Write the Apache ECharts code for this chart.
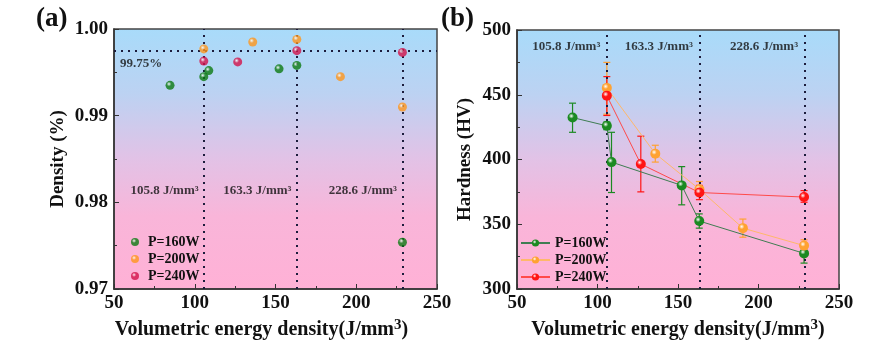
<!DOCTYPE html>
<html><head><meta charset="utf-8">
<script src="https://cdn.jsdelivr.net/npm/echarts@6/dist/echarts.min.js"></script>
<style>html,body{margin:0;padding:0;background:#fff}#c{width:886px;height:345px}</style>
</head><body><div id="c"></div>
<script>
// ---------- Panel (a): density ----------
const seriesNames = ['P=160W', 'P=200W', 'P=240W'];
const densityX160 = [84.7, 105.6, 108.7, 152.2, 163.2, 228.6];
const densityY160 = [0.9935, 0.9945, 0.9952, 0.9954, 0.9958, 0.9754];
const densityX200 = [105.6, 135.9, 163.2, 190.2, 228.6];
const densityY200 = [0.9977, 0.9985, 0.9988, 0.9945, 0.9910];
const densityX240 = [105.6, 126.6, 163.2, 228.6];
const densityY240 = [0.9963, 0.9962, 0.9975, 0.9973];
const densityThreshold = 0.9975;
const thresholdLabel = '99.75%';
const vedLines = [105.8, 163.3, 228.6];
const vedLabels = ['105.8 J/mm³', '163.3 J/mm³', '228.6 J/mm³'];
const densityLabelY = 0.9814;
const hardnessLabelY = 487;

// ---------- Panel (b): hardness ----------
const hardX160 = [84.5, 105.8, 108.7, 152.3, 163.2, 228.3];
const hardY160 = [432.4, 426, 398, 380, 352.5, 327.5];
const hardLo160 = [421, 423, 374.5, 365, 347, 320];
const hardHi160 = [443.5, 429, 421, 394.5, 358, 335];
const hardX200 = [105.8, 135.9, 163.3, 190.3, 228.3];
const hardY200 = [455.3, 404.5, 377, 347, 333.5];
const hardLo200 = [435, 398, 372, 340, 329];
const hardHi200 = [475, 411, 383, 354, 338];
const hardX240 = [105.8, 126.9, 163.3, 228.3];
const hardY240 = [449.3, 396.5, 374.5, 371];
const hardLo240 = [434, 375, 369, 367];
const hardHi240 = [464, 418, 380, 376];

const FONT = 'Liberation Serif';
const colA = ['#0d7a12', '#ff961c', '#d3124a'];
const colB = ['#1b8a22', '#ffa232', '#ff1414'];
const lineB = ['#3f7d52', '#ffb86a', '#ff4a4a'];

function sphere(c) {
  return {type: 'radial', x: 0.38, y: 0.35, r: 0.75,
    colorStops: [{offset: 0, color: '#ffffff'}, {offset: 0.35, color: c}, {offset: 1, color: c}]};
}
const bg = {type: 'linear', x: 0, y: 0, x2: 0, y2: 1,
  colorStops: [{offset: 0, color: '#a8dbfa'}, {offset: 0.25, color: '#bcd2f2'},
    {offset: 0.5, color: '#e2c2e6'}, {offset: 0.72, color: '#f9b5d9'}, {offset: 1, color: '#ffb1d6'}]};

const zip = (xs, ys) => xs.map((x, i) => [x, ys[i]]);
const zip3 = (xs, lo, hi) => xs.map((x, i) => [x, lo[i], hi[i]]);

const axisText = {color: '#111', fontFamily: FONT, fontWeight: 'bold', fontSize: 19};
const xName = '{a|Volumetric energy density(J/mm}{s|3}{a|)}';
function xNameStyle(pad) {
  return {color: '#111', fontFamily: FONT, fontWeight: 'bold', fontSize: 20, padding: pad,
    rich: {a: {fontFamily: FONT, fontWeight: 'bold', fontSize: 20, lineHeight: 24, color: '#111'},
           s: {fontFamily: FONT, fontWeight: 'bold', fontSize: 15, lineHeight: 12, verticalAlign: 'top', color: '#111'}}};
}
function xAxis(gi, pad) {
  return {type: 'value', gridIndex: gi, min: 50, max: 250, interval: 50,
    axisLine: {show: true, lineStyle: {color: '#333', width: 1.5}},
    axisTick: {show: true, inside: true, length: 5, lineStyle: {color: '#333'}},
    minorTick: {show: true, splitNumber: 2, length: 3, lineStyle: {color: '#333'}},
    splitLine: {show: false},
    axisLabel: Object.assign({margin: 5}, axisText),
    name: xName, nameLocation: 'middle', nameGap: 24, nameTextStyle: xNameStyle(pad)};
}

function errSeries(xs, lo, hi, color, gi) {
  return {type: 'custom', xAxisIndex: gi, yAxisIndex: gi, silent: true, z: 3,
    data: zip3(xs, lo, hi),
    renderItem: function (params, api) {
      const x = api.value(0);
      const p1 = api.coord([x, api.value(1)]);
      const p2 = api.coord([x, api.value(2)]);
      const w = 3.5;
      const st = {stroke: color, lineWidth: 1.2};
      return {type: 'group', children: [
        {type: 'line', shape: {x1: p1[0], y1: p1[1], x2: p2[0], y2: p2[1]}, style: st},
        {type: 'line', shape: {x1: p1[0] - w, y1: p1[1], x2: p1[0] + w, y2: p1[1]}, style: st},
        {type: 'line', shape: {x1: p2[0] - w, y1: p2[1], x2: p2[0] + w, y2: p2[1]}, style: st}
      ]};
    }};
}

const dotted = {color: '#1c1c3c', width: 2, type: [2, 5]};
const labelRich = {color: '#111', fontFamily: FONT, fontWeight: 'bold', fontSize: 13};

const option = {
  animation: false,
  backgroundColor: '#fff',
  grid: [
    {left: 114, right: 449, top: 29, bottom: 56, show: true, backgroundColor: bg, borderColor: '#444', borderWidth: 1.5},
    {left: 517, right: 47, top: 30, bottom: 56, show: true, backgroundColor: bg, borderColor: '#444', borderWidth: 1.5}
  ],
  xAxis: [xAxis(0, [0, 28, 0, 0]), xAxis(1, [0, 0, 0, 0])],
  yAxis: [
    {type: 'value', gridIndex: 0, min: 0.97, max: 1.0, interval: 0.01,
      axisLine: {show: true, lineStyle: {color: '#333', width: 1.5}},
      axisTick: {show: true, inside: true, length: 5, lineStyle: {color: '#333'}},
      minorTick: {show: true, splitNumber: 2, length: 3, lineStyle: {color: '#333'}},
      splitLine: {show: false},
      axisLabel: Object.assign({margin: 6, formatter: v => v.toFixed(2)}, axisText),
      name: 'Density (%)', nameLocation: 'middle', nameGap: 46,
      nameTextStyle: {color: '#111', fontFamily: FONT, fontWeight: 'bold', fontSize: 19}},
    {type: 'value', gridIndex: 1, min: 300, max: 500, interval: 50,
      axisLine: {show: true, lineStyle: {color: '#333', width: 1.5}},
      axisTick: {show: true, inside: true, length: 5, lineStyle: {color: '#333'}},
      minorTick: {show: true, splitNumber: 2, length: 3, lineStyle: {color: '#333'}},
      splitLine: {show: false},
      axisLabel: Object.assign({margin: 6}, axisText),
      name: 'Hardness (HV)', nameLocation: 'middle', nameGap: 42,
      nameTextStyle: {color: '#111', fontFamily: FONT, fontWeight: 'bold', fontSize: 19}}
  ],
  legend: [
    {orient: 'vertical', left: 126, top: 230, itemGap: 3, itemWidth: 8, itemHeight: 8, icon: 'circle',
      data: ['a0', 'a1', 'a2'], formatter: n => seriesNames[+n[1]],
      textStyle: {color: '#111', fontFamily: FONT, fontWeight: 'bold', fontSize: 14, padding: [0, 0, 0, 4]}},
    {orient: 'vertical', left: 515, top: 231, itemGap: 3, itemWidth: 29, itemHeight: 9, itemStyle: {borderWidth: 0},
      data: ['b0', 'b1', 'b2'], formatter: n => seriesNames[+n[1]],
      textStyle: {color: '#111', fontFamily: FONT, fontWeight: 'bold', fontSize: 14}}
  ],
  graphic: [
    {type: 'text', left: 36, top: 6, style: {text: '(a)', font: 'bold 27px "Liberation Serif"', fill: '#111'}},
    {type: 'text', left: 441, top: 6, style: {text: '(b)', font: 'bold 27px "Liberation Serif"', fill: '#111'}}
  ],
  series: [
    // helper series with reference lines (a)
    {type: 'scatter', xAxisIndex: 0, yAxisIndex: 0, data: vedLines.map(x => [x, densityLabelY]),
      symbolSize: 1, itemStyle: {color: 'rgba(0,0,0,0)'}, silent: true,
      label: {show: true, position: 'left', distance: 5, formatter: p => vedLabels[p.dataIndex], ...labelRich},
      markLine: {silent: true, symbol: 'none', animation: false, lineStyle: dotted,
        data: [
          [{coord: [50, densityThreshold]}, {coord: [250, densityThreshold],
            label: {show: false}}],
          ...vedLines.map(x => ({xAxis: x, label: {show: false}}))
        ]}},
    {type: 'scatter', xAxisIndex: 0, yAxisIndex: 0, data: [[50, densityThreshold]], symbolSize: 1,
      itemStyle: {color: 'rgba(0,0,0,0)'}, silent: true,
      label: {show: true, position: 'bottom', align: 'left', offset: [6, 1], formatter: thresholdLabel, ...labelRich}},
    {name: 'a0', type: 'scatter', xAxisIndex: 0, yAxisIndex: 0, data: zip(densityX160, densityY160), symbolSize: 9,
      itemStyle: {color: sphere(colA[0])}, z: 5},
    {name: 'a1', type: 'scatter', xAxisIndex: 0, yAxisIndex: 0, data: zip(densityX200, densityY200), symbolSize: 9,
      itemStyle: {color: sphere(colA[1])}, z: 5},
    {name: 'a2', type: 'scatter', xAxisIndex: 0, yAxisIndex: 0, data: zip(densityX240, densityY240), symbolSize: 9,
      itemStyle: {color: sphere(colA[2])}, z: 5},
    // helper series (b)
    {type: 'scatter', xAxisIndex: 1, yAxisIndex: 1, data: vedLines.map(x => [x, hardnessLabelY]),
      symbolSize: 1, itemStyle: {color: 'rgba(0,0,0,0)'}, silent: true,
      label: {show: true, position: 'left', distance: 6, formatter: p => vedLabels[p.dataIndex], ...labelRich},
      markLine: {silent: true, symbol: 'none', animation: false, lineStyle: dotted,
        data: vedLines.map(x => ({xAxis: x, label: {show: false}}))}},
    errSeries(hardX160, hardLo160, hardHi160, colB[0], 1),
    errSeries(hardX200, hardLo200, hardHi200, colB[1], 1),
    errSeries(hardX240, hardLo240, hardHi240, colB[2], 1),
    {name: 'b0', type: 'line', xAxisIndex: 1, yAxisIndex: 1, data: zip(hardX160, hardY160), symbol: 'circle', symbolSize: 10,
      itemStyle: {color: sphere(colB[0])}, lineStyle: {color: lineB[0], width: 1}, z: 5},
    {name: 'b1', type: 'line', xAxisIndex: 1, yAxisIndex: 1, data: zip(hardX200, hardY200), symbol: 'circle', symbolSize: 10,
      itemStyle: {color: sphere(colB[1])}, lineStyle: {color: lineB[1], width: 1}, z: 5},
    {name: 'b2', type: 'line', xAxisIndex: 1, yAxisIndex: 1, data: zip(hardX240, hardY240), symbol: 'circle', symbolSize: 10,
      itemStyle: {color: sphere(colB[2])}, lineStyle: {color: lineB[2], width: 1}, z: 5}
  ]
};
const chart = echarts.init(document.getElementById('c'), null, {renderer: 'canvas'});
chart.setOption(option);
</script></body></html>
